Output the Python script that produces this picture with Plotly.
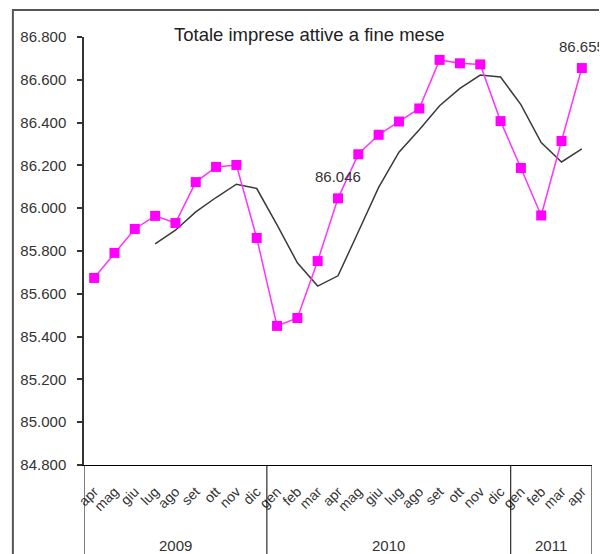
import plotly.graph_objects as go

# monthly data, apr 2009 - apr 2011
years = ["2009", "2010", "2011"]
months_per_year = [
    ["apr", "mag", "giu", "lug", "ago", "set", "ott", "nov", "dic"],
    ["gen", "feb", "mar", "apr", "mag", "giu", "lug", "ago", "set", "ott", "nov", "dic"],
    ["gen", "feb", "mar", "apr"],
]
imprese = [
    85674, 85791, 85903, 85964, 85931, 86122, 86193, 86202, 85861,
    85450, 85487, 85753, 86046, 86252, 86343, 86405, 86466, 86693, 86677, 86672, 86407,
    86188, 85966, 86314, 86655,
]
# media mobile (4 mesi)
media_mobile = [
    None, None, None, 85833, 85897, 85983, 86050, 86112, 86092,
    85922, 85745, 85636, 85684, 85890, 86097, 86262, 86367, 86479, 86560, 86622, 86613,
    86484, 86307, 86216, 86277,
]
labelled = [12, 24]  # apr 2010, apr 2011

months = [m for ms in months_per_year for m in ms]
x = list(range(len(months)))

fig = go.Figure()

fig.add_trace(go.Scatter(
    x=x, y=media_mobile, mode="lines",
    line=dict(color="#3a3a3a", width=1.5),
    connectgaps=False, showlegend=False,
))
fig.add_trace(go.Scatter(
    x=x, y=imprese, mode="lines+markers",
    line=dict(color="#ff33ff", width=1.5),
    marker=dict(symbol="square", size=10, color="#ff00ff"),
    showlegend=False,
))

for i in labelled:
    fig.add_annotation(
        x=x[i], y=imprese[i], text=f"{imprese[i]:,}".replace(",", "."),
        showarrow=False, yshift=22, font=dict(size=15, color="#333333"),
    )

# year boxes under the axis
bounds = [-0.5]
for ms in months_per_year:
    bounds.append(bounds[-1] + len(ms))
for b in bounds:
    fig.add_shape(type="line", xref="x", yref="paper", x0=b, x1=b, y0=0, y1=-0.25,
                  line=dict(color="black", width=1))
for yr, a, b in zip(years, bounds[:-1], bounds[1:]):
    fig.add_annotation(x=(a + b) / 2, xref="x", y=-0.187, yref="paper", yanchor="middle",
                       text=yr, showarrow=False, font=dict(size=15, color="#333333"))

# outer frame
fig.add_shape(type="rect", xref="paper", yref="paper", x0=-0.14, x1=1.2, y0=-0.3, y1=1.063,
              line=dict(color="#555555", width=2))

fig.add_annotation(
    text="Totale imprese attive a fine mese", xref="paper", yref="paper",
    x=0.443, y=1.005, yanchor="middle", showarrow=False,
    font=dict(size=18.5, color="#222222"),
)

yax = dict(
    range=[84800, 86800], tickvals=list(range(84800, 86801, 200)), tickformat=",d",
    showgrid=False, zeroline=False, showline=True, linecolor="#333333", linewidth=1.5,
    ticks="outside", ticklen=5, tickcolor="#333333", tickwidth=1.5,
    tickfont=dict(size=15, color="#333333"), ticklabelstandoff=8,
)
fig.update_layout(
    width=599, height=546,
    margin=dict(l=72, r=15, t=29, b=89),
    separators=",.",
    font=dict(family="Arial, Liberation Sans, sans-serif"),
    plot_bgcolor="white", paper_bgcolor="white",
    xaxis=dict(
        range=[-0.5, len(months) - 0.5], tickmode="array", tickvals=x, ticktext=months,
        tickangle=-45, showgrid=False, zeroline=False, showline=True,
        linecolor="black", linewidth=1, ticks="", tickfont=dict(size=14, color="#333333"),
        ticklabelstandoff=12,
    ),
    yaxis=yax,
    yaxis2=dict(
        overlaying="y", range=[84800, 86800], tickvals=list(range(84800, 86801, 200)),
        showticklabels=False, showgrid=False, zeroline=False,
        ticks="inside", ticklen=5, tickcolor="#333333", tickwidth=1.5,
    ),
)

fig.write_html("out.html")
